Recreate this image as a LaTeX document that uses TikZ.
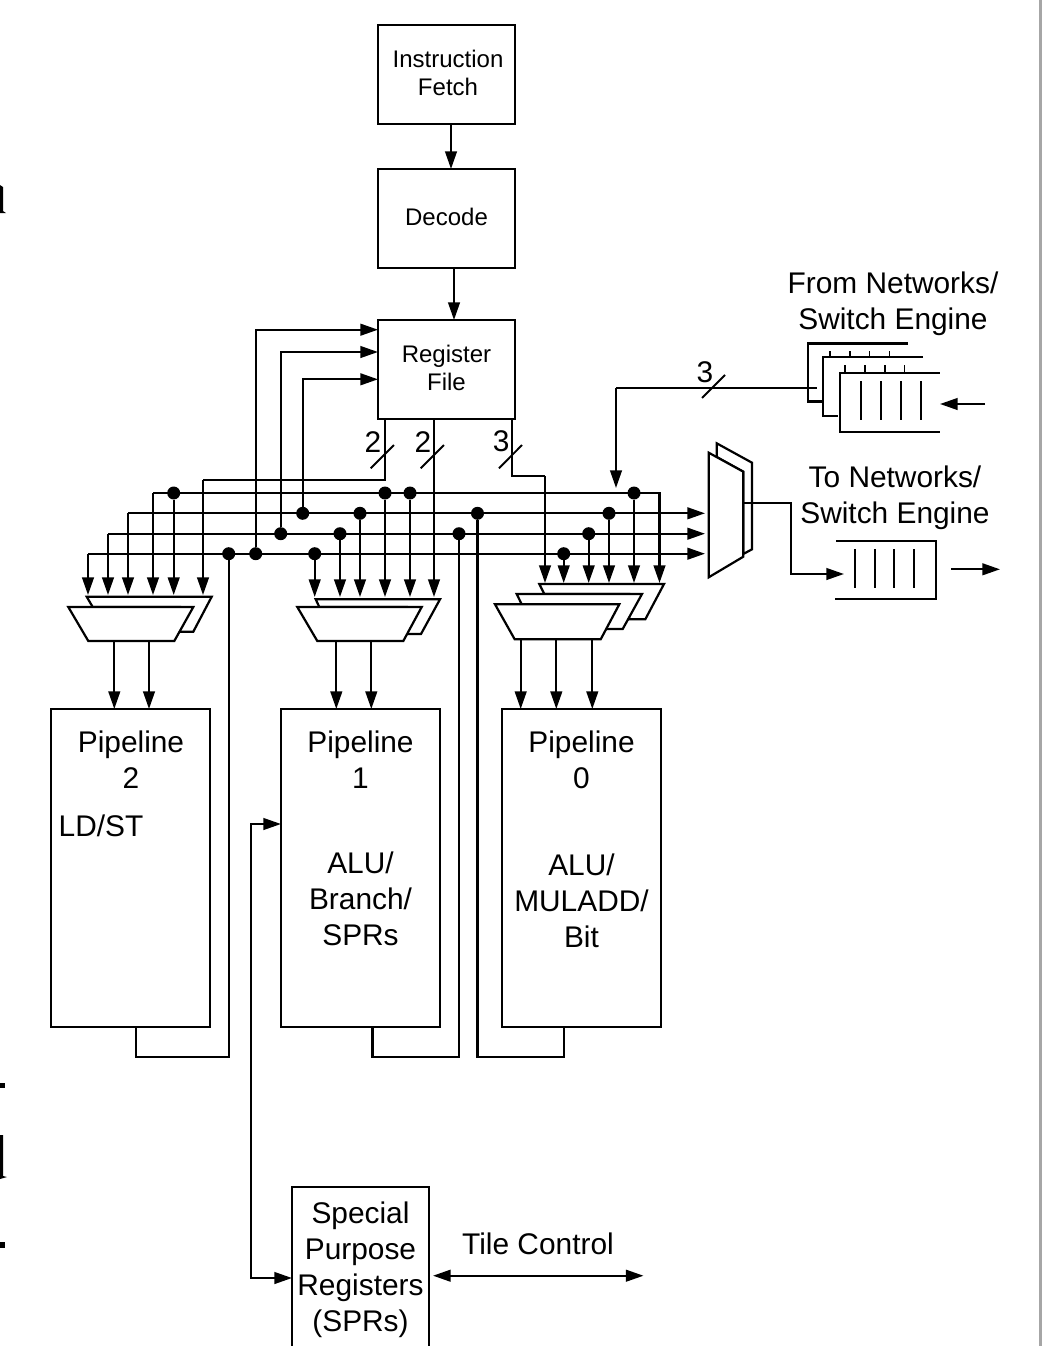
\documentclass[tikz,border=0pt]{standalone}
\usepackage{fontspec}
\setmainfont{Liberation Sans}
\usetikzlibrary{arrows.meta}
\def\pxu{0.75pt}
\tikzset{
  x=0.75pt,y=-0.75pt,
  wire/.style={line width=1.65pt,line cap=butt,line join=miter},
  arr/.style={wire,-{Triangle[length=13.3pt,width=8.8pt]}},
  arrboth/.style={wire,{Triangle[length=13.3pt,width=8.8pt]}-{Triangle[length=13.3pt,width=8.8pt]}},
  box/.style={draw,line width=1.65pt,inner sep=0pt,outer sep=0pt,minimum width=137*\pxu,minimum height=99*\pxu},
  small/.style={inner sep=0pt,outer sep=0pt,align=center,font=\fontsize{18pt}{21pt}\selectfont},
  pipe/.style={draw,line width=1.65pt,inner sep=0pt,outer sep=0pt,minimum width=159*\pxu,minimum height=318*\pxu},
  big/.style={inner sep=0pt,outer sep=0pt,align=center,font=\fontsize{22.4pt}{27pt}\selectfont},
  dot/.style={circle,fill=black,inner sep=0pt,outer sep=0pt,minimum size=9.75pt},
  mux/.style={wire,fill=white},
  slash/.style={line width=1.4pt},
  tick/.style={line width=1.5pt},
  shorttick/.style={line width=1.2pt},
  scrap/.style={fill=black,draw=none}
}
\begin{document}
\begin{tikzpicture}
\useasboundingbox (0,0) rectangle (1042,1346);
\fill[white] (0,0) rectangle (1042,1346);
% page remnants
\fill[black!35] (1039,0) rectangle (1042,1346);
\fill[scrap] (0,185) -- (3,187) -- (3,211) -- (6,213) -- (0,213) -- cycle;
\fill[scrap] (0,1083) rectangle (5,1088);
\fill[scrap] (0,1135) -- (3,1135) -- (3,1176) -- (7,1177) -- (0,1179) -- cycle;
\fill[scrap] (0,1242) rectangle (5,1248);

% boxes
\node[box] (fetch) at (446.5,74.5) {};
\node[small] (fetcht) at (448,72.5) {Instruction\\Fetch};
\node[box] (decode) at (446.5,218.5) {};
\node[small] (decodet) at (446.5,216.5) {Decode};
\node[box] (regfile) at (446.5,369.5) {};
\node[small] (regfilet) at (446.5,367.5) {Register\\File};
\node[pipe] (p2) at (130.5,868) {};
\node[pipe] (p1) at (360.5,868) {};
\node[pipe] (p0) at (581.5,868) {};
\node[big] (p2t) at (131,760) {Pipeline\\2};
\node[big] (p2u) at (101,826) {LD/ST};
\node[big] (p1t) at (360.5,760) {Pipeline\\1};
\node[big] (p1u) at (360.5,899) {ALU/\\Branch/\\SPRs};
\node[big] (p0t) at (581.5,760) {Pipeline\\0};
\node[big] (p0u) at (581.5,901) {ALU/\\MULADD/\\Bit};
\node[inner sep=0pt,outer sep=0pt,minimum width=137*\pxu,minimum height=160*\pxu] (spr) at (360.5,1267) {};
\node[big] (sprt) at (360.5,1270) {Special\\Purpose\\Registers\\(SPRs)};
\draw[wire] (spr.south west) -- (spr.north west) -- (spr.north east) -- (spr.south east);
\node[big] (tile) at (538,1244) {Tile Control};
\node[big] (from) at (893,304) {From Networks/\\Switch Engine};
\node[big] (to) at (895,498) {To Networks/\\Switch Engine};

% multiplexers
\path[mux,draw] (86.7,596.7) -- (211.7,596.7) -- (193.3,631.7) -- (180,631.7) -- (180,607) -- (92.7,607) -- cycle;
\path[mux,draw] (68.3,607) -- (193.3,607) -- (174.3,641) -- (88.3,641) -- cycle;
\path[mux,draw] (315.7,599.3) -- (440,599.3) -- (421,634) -- (406.7,634) -- (406.7,607) -- (319.3,607) -- cycle;
\path[mux,draw] (297.3,607) -- (421.7,607) -- (403.3,641) -- (317.3,641) -- cycle;
\path[mux,draw] (539.3,584) -- (664,584) -- (645.3,619.3) -- (629.3,619.3) -- (629.3,594) -- (544.3,594) -- cycle;
\path[mux,draw] (516.7,594) -- (642,594) -- (622.7,629) -- (606.7,629) -- (606.7,604.3) -- (521.7,604.3) -- cycle;
\path[mux,draw] (495,604.3) -- (619.3,604.3) -- (600.7,639.3) -- (514.7,639.3) -- cycle;
\path[mux,draw] (716.7,457) -- (716.7,443.3) -- (752,462.7) -- (752,549.3) -- (743.3,554) -- (743.3,471.7) -- cycle;
\path[mux,draw] (708.7,452.7) -- (743.3,471.7) -- (743.3,556.7) -- (708.7,577.3) -- cycle;

% coordinates
\coordinate (b3w) at (153,493);   \coordinate (b3e) at (659.5,493);
\coordinate (b2w) at (128,513.3); \coordinate (b2e) at (705,513.3);
\coordinate (b1w) at (108,533.7); \coordinate (b1e) at (705,533.7);
\coordinate (b0w) at (88,553.7);  \coordinate (b0e) at (705,553.7);
\coordinate (t2) at (0,595);
\coordinate (t1) at (0,597);
\coordinate (t0) at (0,583);
\coordinate (outA) at (384.7,419);
\coordinate (outB) at (434,419);
\coordinate (outC) at (512,419);
\coordinate (elbA) at (384.7,480);
\coordinate (elbA2) at (203,480);
\coordinate (elbC) at (512,476);
\coordinate (elbC2) at (545,476);
\coordinate (rfa) at (378,329.7);
\coordinate (rfb) at (378,352);
\coordinate (rfc) at (378,379.3);

% bus wires
\draw[arr] (b3w) -- (b3e) -- (b3e |- t0);
\draw[arr] (b3w) -- (b3w |- t2);
\draw[arr] (b2w) -- (b2e);
\draw[arr] (b2w) -- (b2w |- t2);
\draw[arr] (b1w) -- (b1e);
\draw[arr] (b1w) -- (b1w |- t2);
\draw[arr] (b0w) -- (b0e);
\draw[arr] (b0w) -- (b0w |- t2);

% register file outputs
\draw[wire] (outA) -- (elbA) -- (elbA2);
\draw[arr] (elbA2) -- (elbA2 |- t2);
\draw[arr] (outB) -- (outB |- t1);
\draw[wire] (outC) -- (elbC) -- (elbC2);
\draw[arr] (elbC2) -- (elbC2 |- t0);

% junction dots
\foreach \n/\x/\y in {a1/173.7/493,a2/385/493,a3/410/493,a4/634/493,
  c1/302.7/513.3,c2/360/513.3,c3/477.5/513.3,c4/609/513.3,
  e1/280.7/533.7,e2/340/533.7,e3/459/533.7,e4/588.7/533.7,
  g1/228.7/553.7,g2/255.7/553.7,g3/314.7/553.7,g4/563.7/553.7}
  \node[dot] (\n) at (\x,\y) {};

% taps down to multiplexers
\draw[arr] (a1) -- (a1 |- t2);
\draw[arr] (a2) -- (a2 |- t1);
\draw[arr] (a3) -- (a3 |- t1);
\draw[arr] (a4) -- (a4 |- t0);
\draw[arr] (c2) -- (c2 |- t1);
\draw[arr] (c4) -- (c4 |- t0);
\draw[arr] (e2) -- (e2 |- t1);
\draw[arr] (e4) -- (e4 |- t0);
\draw[arr] (g3) -- (g3 |- t1);
\draw[arr] (g4) -- (g4 |- t0);

% feedback to register file
\draw[arr] (g2) -- (g2 |- rfa) -- (rfa);
\draw[arr] (e1) -- (e1 |- rfb) -- (rfb);
\draw[arr] (c1) -- (c1 |- rfc) -- (rfc);

% control flow
\coordinate (f1) at (451,124);
\draw[arr] (f1) -- (f1 |- decode.north);
\coordinate (f2) at (454,268);
\draw[arr] (f2) -- (f2 |- regfile.north);

% mux to pipelines
\foreach \x in {114.3,149} { \coordinate (m) at (\x,641); \draw[arr] (m) -- (m |- p2.north); }
\foreach \x in {336.3,371.3} { \coordinate (m) at (\x,641); \draw[arr] (m) -- (m |- p1.north); }
\foreach \x in {520.7,556.3,592.3} { \coordinate (m) at (\x,639.3); \draw[arr] (m) -- (m |- p0.north); }

% pipeline results
\coordinate (r2) at (136,1027); \coordinate (r2b) at (136,1057);
\draw[wire] (r2) -- (r2b) -| (g1);
\coordinate (r1) at (372.5,1027); \coordinate (r1b) at (372.5,1057);
\draw[wire] (r1) -- (r1b) -| (e3);
\coordinate (r0) at (564,1027); \coordinate (r0b) at (564,1057);
\draw[wire] (r0) -- (r0b) -| (c3);

% SPR links
\coordinate (s1) at (251,1278); \coordinate (s2) at (251,824);
\draw[arrboth] (spr.west |- s1) -- (s1) -- (s2) -- (p1.west |- s2);
\coordinate (tc1) at (433,1275.7); \coordinate (tc2) at (643.5,1275.7);
\draw[arrboth] (tc1) -- (tc2);

% bus width marks
\draw[slash] (370.7,468.3) -- (394,445);
\draw[slash] (420.7,468.3) -- (444,445);
\draw[slash] (499,468.3) -- (522,445);
\draw[slash] (702,398) -- (725,375);
\node[big] (w1) at (373,442) {2};
\node[big] (w2) at (423,442) {2};
\node[big] (w3) at (501.3,441) {3};
\node[big] (w4) at (705,372) {3};

% input queues
\coordinate (qin) at (616,387.7);
\draw[wire] (816.7,387.7) -- (qin);
\draw[arr] (qin) -- (616,488);
\draw[wire] (908,343.5) -- (808.3,343.5) -- (808.3,401.5) -- (822,401.5);
\draw[wire] (923,357) -- (823.3,357) -- (823.3,416) -- (838,416);
\draw[wire] (939.7,373) -- (840,373) -- (840,432) -- (940,432);
\foreach \x in {861.3,881,901,920.7} \draw[tick] (\x,381) -- (\x,420);
\foreach \x in {830,849.7,869.3,889.3} \draw[shorttick] (\x,351) -- (\x,357);
\foreach \x in {845,864.7,884.7,904.3} \draw[shorttick] (\x,365) -- (\x,373);
\coordinate (qa) at (985,404); \coordinate (qa2) at (940,404);
\draw[arr] (qa) -- (qa2);

% output queue
\coordinate (o1) at (743.3,503); \coordinate (o2) at (791,503); \coordinate (o3) at (791,574); \coordinate (o4) at (844,574);
\draw[arr] (o1) -- (o2) -- (o3) -- (o4);
\draw[wire] (836,541) -- (935.7,541) -- (935.7,599.3) -- (835,599.3);
\foreach \x in {855,874.7,894,914.3} \draw[tick] (\x,549) -- (\x,588);
\coordinate (oa) at (951,569.3); \coordinate (oa2) at (1000,569.3);
\draw[arr] (oa) -- (oa2);
\end{tikzpicture}
\end{document}
